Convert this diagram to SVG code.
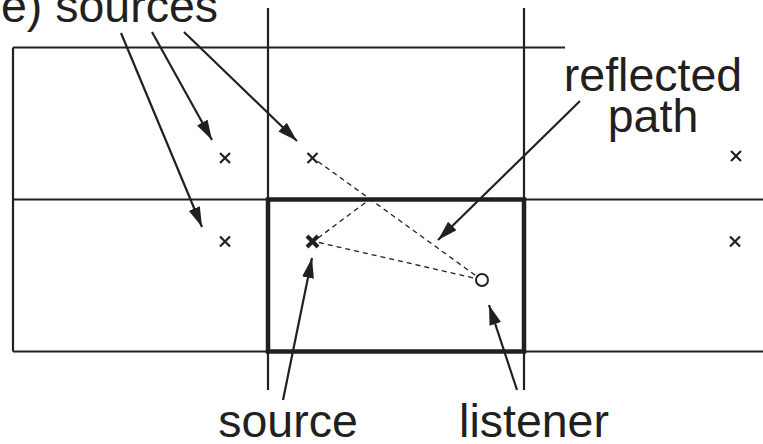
<svg xmlns="http://www.w3.org/2000/svg" width="763" height="444" viewBox="0 0 763 444">
<style>
.wall{stroke:#231f20;stroke-width:2.2;fill:none}
.room{stroke:#231f20;stroke-width:4.5;fill:none}
.dash{stroke:#231f20;stroke-width:1.3;stroke-dasharray:5 4;fill:none}
.x{stroke:#231f20;stroke-width:2.2;fill:none}
.xb{stroke:#231f20;stroke-width:4;fill:none}
.arr{stroke:#231f20;stroke-width:2.2;fill:none;marker-end:url(#ah)}
.lbl{font-family:"Liberation Sans",Arial,sans-serif;font-size:46.5px;fill:#231f20}
</style>
<defs>
<marker id="ah" markerUnits="userSpaceOnUse" markerWidth="21" markerHeight="13" refX="20" refY="6" orient="auto" viewBox="0 0 21 13">
<path d="M0,0 L20,6 L0,12 z" fill="#231f20"/>
</marker>
</defs>
<rect width="763" height="444" fill="#fff"/>
<g id="walls">
<line class="wall" x1="13" y1="47.5" x2="565" y2="47.5"/>
<line class="wall" x1="13" y1="47.5" x2="13" y2="351.5"/>
<line class="wall" x1="268" y1="8" x2="268" y2="390"/>
<line class="wall" x1="524" y1="8" x2="524" y2="390"/>
<line class="wall" x1="13" y1="199.5" x2="763" y2="199.5"/>
<line class="wall" x1="13" y1="351.5" x2="763" y2="351.5"/>
</g>
<g id="room">
<rect class="room" x="268" y="199.5" width="256" height="152"/>
</g>
<g id="image-sources">
<path class="x" d="M220,153 L230,163 M230,153 L220,163"/>
<path class="x" d="M307.5,153 L317.5,163 M317.5,153 L307.5,163"/>
<path class="x" d="M731,151 L741,161 M741,151 L731,161"/>
<path class="x" d="M220,236.5 L230,246.5 M230,236.5 L220,246.5"/>
<path class="x" d="M730,236.5 L740,246.5 M740,236.5 L730,246.5"/>
</g>
<g id="source">
<path class="xb" d="M307,236 L318,247 M318,236 L307,247"/>
</g>
<g id="listener">
<circle cx="482" cy="280" r="6" fill="#fff" stroke="#231f20" stroke-width="2"/>
</g>
<g id="connectors">
<line class="dash" x1="318" y1="161.5" x2="477" y2="276.5"/>
<line class="dash" x1="318" y1="238" x2="369.5" y2="199.5"/>
<line class="dash" x1="319" y1="242.5" x2="476" y2="278.5"/>
<line class="arr" x1="121" y1="33" x2="202" y2="227"/>
<line class="arr" x1="152" y1="32" x2="212" y2="140"/>
<line class="arr" x1="184" y1="32" x2="297" y2="141"/>
<line class="arr" x1="580" y1="101" x2="438" y2="240"/>
<line class="arr" x1="283" y1="400" x2="312" y2="258"/>
<line class="arr" x1="517" y1="390" x2="489" y2="305"/>
</g>
<g id="labels">
<text class="lbl" x="218" y="22" text-anchor="end">e) sources</text>
<text class="lbl" x="653" y="91" text-anchor="middle">reflected</text>
<text class="lbl" x="653" y="132" text-anchor="middle">path</text>
<text class="lbl" x="288" y="437" text-anchor="middle">source</text>
<text class="lbl" x="534" y="437" text-anchor="middle">listener</text>
</g>
</svg>
